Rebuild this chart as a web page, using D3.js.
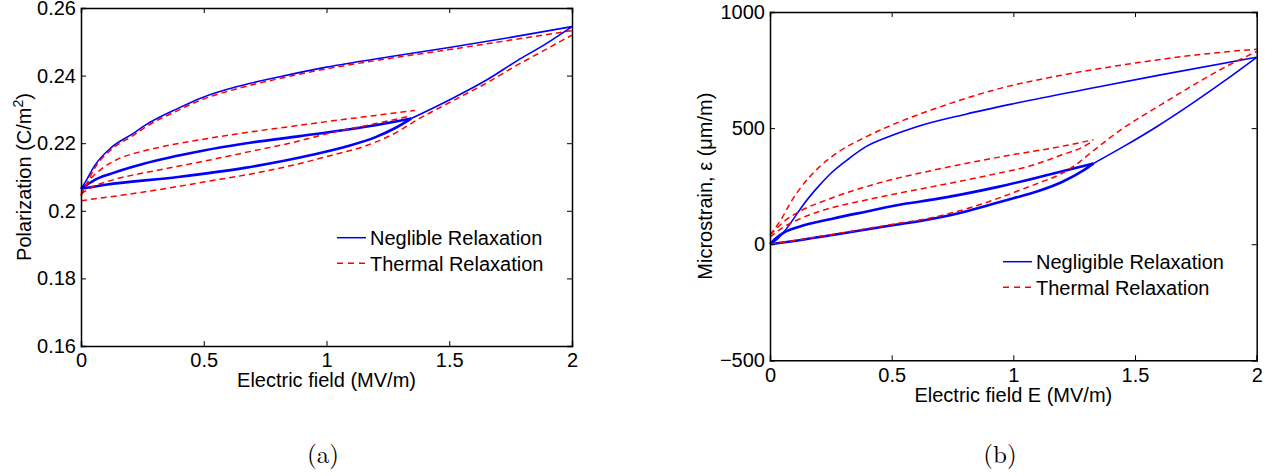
<!DOCTYPE html>
<html>
<head>
<meta charset="utf-8">
<script src="https://cdn.jsdelivr.net/npm/d3@7"></script>
<style>
  body { margin: 0; background: #fff; }
  svg { display: block; }
  text { font-family: "Liberation Sans", Arial, Helvetica, sans-serif; fill: #000; }
</style>
</head>
<body>
<div id="chart"></div>
<script>
// ---- data ----
// (a) polarization vs field, [E (MV/m), P (C/m^2)]
var aNegMajorDown = [[0,0.2065],[0.02,0.2088],[0.055,0.2133],[0.123,0.2187],[0.213,0.2229],[0.259,0.2252],[0.395,0.2303],[0.49,0.2334],[0.65,0.2370],[0.8,0.2395],[1.0,0.2425],[1.25,0.2455],[1.5,0.2483],[1.75,0.2513],[2,0.2545]];
var aNegMinorDown = [[0,0.2065],[0.055,0.2091],[0.123,0.2110],[0.259,0.2140],[0.49,0.2177],[0.667,0.2199],[0.892,0.2221],[1.074,0.2239],[1.2,0.2253],[1.345,0.2273]];
var aNegMinorUp   = [[0,0.2065],[0.1,0.2077],[0.395,0.2100],[0.667,0.2127],[0.938,0.2165],[1.074,0.2189],[1.2,0.2218],[1.28,0.2245],[1.345,0.2273]];
var aNegMajorUp   = [[1.345,0.2273],[1.5,0.2328],[1.652,0.2387],[1.774,0.2443],[1.9,0.2497],[2,0.2545]];
var aThMajorDown  = [[0,0.2045],[0.02,0.2075],[0.055,0.2125],[0.123,0.2181],[0.213,0.2223],[0.259,0.2246],[0.395,0.2297],[0.49,0.2328],[0.65,0.2364],[0.8,0.2390],[1.0,0.2420],[1.25,0.2450],[1.5,0.2477],[1.75,0.2505],[2,0.2533]];
var aThMinorTop   = [[0,0.2045],[0.03,0.2085],[0.08,0.2122],[0.15,0.2153],[0.25,0.2176],[0.327,0.2189],[0.5,0.2212],[0.667,0.2231],[0.85,0.2249],[1.014,0.2265],[1.2,0.2282],[1.36,0.2297]];
var aThMinorMid   = [[0,0.2050],[0.05,0.2072],[0.123,0.2090],[0.327,0.2122],[0.49,0.2145],[0.667,0.2172],[0.85,0.2200],[1.014,0.2230],[1.2,0.2258],[1.34,0.2280]];
var aThInitial    = [[0,0.2030],[0.25,0.2055],[0.5,0.2085],[0.75,0.2117],[0.892,0.2140],[1.014,0.2163],[1.163,0.2193],[1.3,0.2238],[1.36,0.2265],[1.5,0.2320],[1.652,0.2378],[1.774,0.2430],[1.9,0.2480],[2,0.2520]];

// (b) microstrain vs field, [E (MV/m), strain (um/m)]
var bNegMajorDown = [[0,0],[0.03,22],[0.055,50],[0.096,108],[0.137,170],[0.2,250],[0.257,312],[0.326,370],[0.394,420],[0.5,468],[0.6,505],[0.805,560],[1.0,605],[1.353,678],[1.6,728],[2,805]];
var bNegMinorDown = [[0,0],[0.02,22],[0.052,47],[0.12,75],[0.257,110],[0.394,140],[0.56,175],[0.668,192],[0.942,248],[1.148,300],[1.33,348]];
var bNegMinorUp   = [[0,0],[0.1,14],[0.257,40],[0.493,80],[0.668,110],[0.8,140],[0.904,170],[1.0,198],[1.1,228],[1.2,268],[1.288,318],[1.33,348]];
var bNegMajorUp   = [[1.33,348],[1.452,420],[1.589,506],[1.726,600],[1.863,700],[2,805]];
var bThMajorDown  = [[0,40],[0.011,55],[0.052,118],[0.082,175],[0.12,235],[0.2,330],[0.285,400],[0.394,462],[0.493,510],[0.668,580],[0.942,670],[1.2,728],[1.5,780],[1.75,815],[2,840]];
var bThMinorTop   = [[0,40],[0.025,65],[0.06,100],[0.12,140],[0.257,200],[0.463,268],[0.668,318],[0.942,375],[1.216,425],[1.33,450]];
var bThMinorMid   = [[0,30],[0.05,70],[0.12,108],[0.257,158],[0.394,190],[0.531,220],[0.668,248],[0.805,276],[0.904,298],[1.079,340],[1.2,385],[1.285,418],[1.32,440]];
var bThInitial    = [[0,0],[0.257,42],[0.493,84],[0.668,115],[0.8,150],[0.904,185],[1.0,222],[1.1,262],[1.2,305],[1.26,345],[1.32,395],[1.38,445],[1.452,500],[1.55,565],[1.627,614],[1.764,700],[1.9,779],[2,830]];

// ticks and labels
var xTicks = [0, 0.5, 1, 1.5, 2];
var xTickLabels = ["0", "0.5", "1", "1.5", "2"];
var aYTicks = [0.16, 0.18, 0.2, 0.22, 0.24, 0.26];
var aYTickLabels = ["0.16", "0.18", "0.2", "0.22", "0.24", "0.26"];
var bYTicks = [-500, 0, 500, 1000];
var bYTickLabels = ["\u2212500", "0", "500", "1000"];
var seriesNames = { a: ["Neglible Relaxation", "Thermal Relaxation"], b: ["Negligible Relaxation", "Thermal Relaxation"] };

var width = 1278, height = 476;
var svg = d3.select("#chart").append("svg")
    .attr("width", width)
    .attr("height", height);

var BLUE = "#0000ff", RED = "#ff0000";

function drawPanel(p) {
  var x = d3.scaleLinear().domain([0, 2]).range([p.left, p.right]);
  var y = d3.scaleLinear().domain(p.yDomain).range([p.bottom, p.top]);
  var g = svg.append("g");

  var line = d3.line()
    .x(function(d) { return x(d[0]); })
    .y(function(d) { return y(d[1]); })
    .curve(d3.curveMonotoneX);

  // blue (negligible) first, red dashed on top
  p.blue.forEach(function(s) {
    g.append("path").attr("d", line(s.data))
      .attr("fill", "none").attr("stroke", BLUE)
      .attr("stroke-width", s.w).attr("stroke-linejoin", "round");
  });
  p.red.forEach(function(s) {
    g.append("path").attr("d", line(s))
      .attr("fill", "none").attr("stroke", RED)
      .attr("stroke-width", 1.5).attr("stroke-dasharray", "6,4");
  });

  // axes, ticks pointing inward on all sides
  var fmtX = function(d, i) { return xTickLabels[i]; };
  var fmtY = function(d, i) { return p.yLabels[i]; };

  g.append("g").attr("transform", "translate(0," + p.bottom + ")")
    .call(d3.axisBottom(x).tickValues(xTicks).tickFormat(fmtX).tickSize(-5).tickPadding(p.xPad))
    .call(style);
  g.append("g").attr("transform", "translate(0," + p.top + ")")
    .call(d3.axisTop(x).tickValues(xTicks).tickFormat("").tickSize(-5))
    .call(style);
  g.append("g").attr("transform", "translate(" + p.left + ",0)")
    .call(d3.axisLeft(y).tickValues(p.yTicks).tickFormat(fmtY).tickSize(-5).tickPadding(5))
    .call(style);
  g.append("g").attr("transform", "translate(" + p.right + ",0)")
    .call(d3.axisRight(y).tickValues(p.yTicks).tickFormat("").tickSize(-5))
    .call(style);

  // axis titles
  g.append("text")
    .attr("x", (p.left + p.right) / 2).attr("y", p.xTitleY)
    .attr("text-anchor", "middle").attr("font-size", 20)
    .text(p.xTitle);

  var yt = g.append("text")
    .attr("transform", "translate(" + p.yTitleX + "," + (p.top + p.bottom) / 2 + ") rotate(-90)")
    .attr("text-anchor", "middle").attr("font-size", 20);
  p.yTitle(yt);

  // legend
  var names = p.names;
  [0, 1].forEach(function(i) {
    var ly = p.legY + i * 25.6;
    g.append("line")
      .attr("x1", p.legX).attr("x2", p.legX + 29)
      .attr("y1", ly).attr("y2", ly)
      .attr("stroke", i === 0 ? BLUE : RED)
      .attr("stroke-width", 1.5)
      .attr("stroke-dasharray", i === 0 ? null : "6,5");
    g.append("text")
      .attr("x", p.legX + 33).attr("y", ly + 7.5)
      .attr("font-size", 20)
      .text(names[i]);
  });

  // caption
  svg.append("text")
    .attr("x", p.capX).attr("y", 463)
    .attr("text-anchor", "middle")
    .style("font-family", "'Latin Modern Roman', 'Liberation Serif', 'DejaVu Serif', serif")
    .attr("font-size", 25)
    .text(p.caption);
}

function style(sel) {
  sel.select(".domain").attr("stroke", "#000").attr("stroke-width", 1.5);
  sel.selectAll(".tick line").attr("stroke", "#000").attr("stroke-width", 1);
  sel.selectAll(".tick text").attr("font-size", 20).attr("font-family", null).attr("fill", "#000");
}

drawPanel({
  left: 81, right: 572, top: 8, bottom: 346,
  yDomain: [0.16, 0.26], yTicks: aYTicks, yLabels: aYTickLabels, xPad: 7,
  blue: [
    { data: aNegMajorDown, w: 1.6 },
    { data: aNegMinorDown, w: 2.6 },
    { data: aNegMinorUp, w: 2.6 },
    { data: aNegMajorUp, w: 1.6 }
  ],
  red: [aThMajorDown, aThMinorTop, aThMinorMid, aThInitial],
  xTitle: "Electric field (MV/m)", xTitleY: 387,
  yTitleX: 31,
  yTitle: function(t) {
    t.append("tspan").text("Polarization (C/m");
    t.append("tspan").attr("dy", -8).attr("font-size", 14).text("2");
    t.append("tspan").attr("dy", 8).text(")");
  },
  names: seriesNames.a, legX: 337, legY: 237.7,
  capX: 323, caption: "(a)"
});

drawPanel({
  left: 770, right: 1256.7, top: 12, bottom: 360.3,
  yDomain: [-500, 1000], yTicks: bYTicks, yLabels: bYTickLabels, xPad: 7.5,
  blue: [
    { data: bNegMajorDown, w: 1.6 },
    { data: bNegMinorDown, w: 2.6 },
    { data: bNegMinorUp, w: 2.6 },
    { data: bNegMajorUp, w: 1.6 }
  ],
  red: [bThMajorDown, bThMinorTop, bThMinorMid, bThInitial],
  xTitle: "Electric field E (MV/m)", xTitleY: 402,
  yTitleX: 712,
  yTitle: function(t) { t.text("Microstrain, \u03b5 (\u03bcm/m)"); },
  names: seriesNames.b, legX: 1003, legY: 261.7,
  capX: 1000, caption: "(b)"
});
</script>
</body>
</html>
